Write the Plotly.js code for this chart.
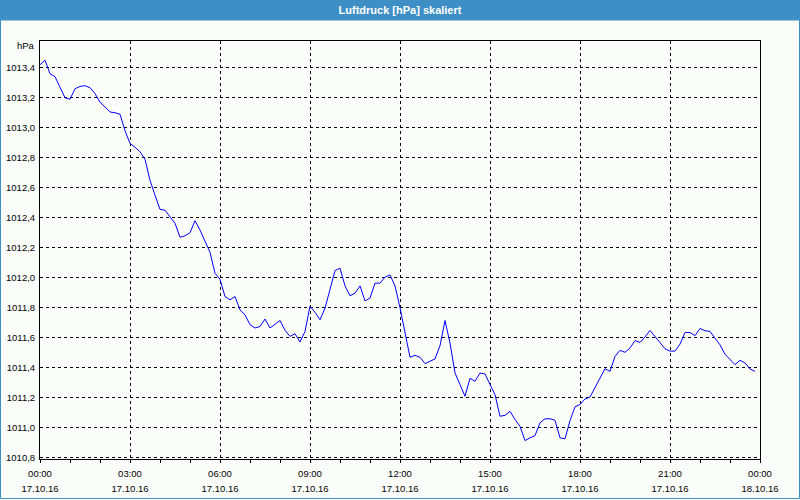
<!DOCTYPE html>
<html>
<head>
<meta charset="utf-8">
<script src="https://cdn.plot.ly/plotly-3.0.1.min.js"></script>
<style>html,body{margin:0;padding:0;background:#fbfdfb;}#chart{width:800px;height:500px;}</style>
</head>
<body>
<div id="chart"></div>
<script>
var chartTitle = "Luftdruck [hPa] skaliert";
var unitLabel = "hPa";
var day = "2016-10-17";
var times = ["00:00","00:10","00:20","00:30","00:40","00:50","01:00","01:10","01:20","01:30","01:40","01:50",
"02:00","02:10","02:20","02:30","02:40","02:50","03:00","03:10","03:20","03:30","03:40","03:50",
"04:00","04:10","04:20","04:30","04:40","04:50","05:00","05:10","05:20","05:30","05:40","05:50",
"06:00","06:10","06:20","06:30","06:40","06:50","07:00","07:10","07:20","07:30","07:40","07:50",
"08:00","08:10","08:20","08:30","08:40","08:50","09:00","09:10","09:20","09:30","09:40","09:50",
"10:00","10:10","10:20","10:30","10:40","10:50","11:00","11:10","11:20","11:30","11:40","11:50",
"12:00","12:10","12:20","12:30","12:40","12:50","13:00","13:10","13:20","13:30","13:40","13:50",
"14:00","14:10","14:20","14:30","14:40","14:50","15:00","15:10","15:20","15:30","15:40","15:50",
"16:00","16:10","16:20","16:30","16:40","16:50","17:00","17:10","17:20","17:30","17:40","17:50",
"18:00","18:10","18:20","18:30","18:40","18:50","19:00","19:10","19:20","19:30","19:40","19:50",
"20:00","20:10","20:20","20:30","20:40","20:50","21:00","21:10","21:20","21:30","21:40","21:50",
"22:00","22:10","22:20","22:30","22:40","22:50","23:00","23:10","23:20","23:30","23:40","23:50"];
var pressure = [1013.42,1013.45,1013.36,1013.34,1013.27,1013.20,1013.19,1013.26,1013.275,1013.28,1013.267,1013.227,
1013.17,1013.14,1013.105,1013.10,1013.09,1012.98,1012.895,1012.87,1012.84,1012.79,1012.65,1012.55,
1012.456,1012.45,1012.41,1012.363,1012.27,1012.28,1012.30,1012.38,1012.318,1012.24,1012.17,1012.03,
1011.99,1011.875,1011.853,1011.875,1011.786,1011.753,1011.687,1011.665,1011.675,1011.725,1011.665,1011.69,
1011.715,1011.65,1011.609,1011.627,1011.572,1011.642,1011.81,1011.77,1011.72,1011.797,1011.92,1012.048,
1012.064,1011.946,1011.88,1011.897,1011.946,1011.846,1011.864,1011.964,1011.964,1012.004,1012.019,1011.946,
1011.80,1011.64,1011.47,1011.483,1011.47,1011.428,1011.443,1011.459,1011.547,1011.715,1011.565,1011.365,
1011.288,1011.21,1011.33,1011.31,1011.365,1011.359,1011.288,1011.221,1011.077,1011.083,1011.11,1011.055,
1011.01,1010.915,1010.933,1010.948,1011.033,1011.06,1011.06,1011.05,1010.933,1010.927,1011.048,1011.14,
1011.155,1011.192,1011.205,1011.266,1011.33,1011.394,1011.376,1011.476,1011.516,1011.503,1011.532,1011.582,
1011.569,1011.605,1011.649,1011.609,1011.572,1011.527,1011.511,1011.511,1011.558,1011.635,1011.635,1011.614,
1011.662,1011.647,1011.642,1011.598,1011.553,1011.49,1011.454,1011.421,1011.45,1011.432,1011.392,1011.376];
var xRange = ["2016-10-17 00:00", "2016-10-18 00:00"];
var yRange = [1010.792, 1013.578];

var W = 800, H = 500, ML = 40, MR = 40, MT = 41, MB = 41;
var PW = W - ML - MR, PH = H - MT - MB;
function px(x) { return (x - ML) / PW; }
function py(y) { return (H - MB - y) / PH; }

var bg = "#fbfdfb";
var blue = "#3d8fc5";
var tickFont = {family: "Liberation Sans, Arial, sans-serif", size: 9.5, color: "#000"};

var xs = times.map(function (t) { return day + " " + t; });
var trace = {
  type: "scatter", mode: "lines",
  x: xs, y: pressure,
  line: {color: "#0000ff", width: 1},
  hoverinfo: "x+y"
};
// same series bound to the date-label axis (kept transparent, it only carries the second label row)
var dateAxisTrace = {
  type: "scatter", mode: "lines", xaxis: "x2", yaxis: "y",
  x: xs, y: pressure,
  line: {color: "rgba(0,0,0,0)", width: 0},
  hoverinfo: "skip", showlegend: false
};

var HOUR = 3600000;
var layout = {
  width: W, height: H,
  margin: {l: ML, r: MR, t: MT, b: MB, pad: 0},
  paper_bgcolor: bg, plot_bgcolor: bg,
  showlegend: false,
  separators: ",.",
  title: {
    text: chartTitle,
    font: {family: "Liberation Sans, Arial, sans-serif", size: 11, color: "#ffffff", weight: "bold"},
    x: 0.5, xref: "container", xanchor: "center",
    y: 1 - 10.5 / H, yref: "container", yanchor: "middle"
  },
  xaxis: {
    type: "date", range: xRange,
    tick0: "2016-10-17 00:00", dtick: 3 * HOUR,
    tickformat: "%H:%M",
    ticks: "outside", ticklen: 3, tickcolor: "#000", tickwidth: 1,
    minor: {dtick: HOUR, ticks: "outside", ticklen: 3, tickcolor: "#000", showgrid: false},
    showgrid: true, gridcolor: "#000", gridwidth: 1, griddash: "3px,3px",
    showline: true, linecolor: "#000", linewidth: 1, mirror: true,
    zeroline: false, tickfont: tickFont, ticklabelstandoff: 3
  },
  xaxis2: {
    type: "date", range: xRange, overlaying: "x", anchor: "y", side: "bottom",
    tick0: "2016-10-17 00:00", dtick: 3 * HOUR,
    tickformat: "%d.%m.%y",
    ticks: "", showgrid: false, showline: false, zeroline: false,
    tickfont: tickFont, ticklabelstandoff: 22
  },
  yaxis: {
    range: yRange, tick0: 1010.8, dtick: 0.2, tickformat: ".1f",
    ticks: "", showgrid: true, gridcolor: "#000", gridwidth: 1, griddash: "3px,3px",
    showline: true, linecolor: "#000", linewidth: 1, mirror: true,
    zeroline: false, tickfont: tickFont, ticklabelstandoff: 2
  },
  shapes: [
    {type: "rect", xref: "paper", yref: "paper", layer: "below",
     x0: px(0), x1: px(800), y0: py(20.5), y1: py(0),
     fillcolor: blue, line: {width: 0}},
    {type: "rect", xref: "paper", yref: "paper", layer: "below",
     x0: px(0.5), x1: px(799.5), y0: py(498.5), y1: py(0.5),
     fillcolor: "rgba(0,0,0,0)", line: {color: blue, width: 1}}
  ],
  annotations: [
    {text: unitLabel, xref: "paper", yref: "paper", x: 0, y: 1,
     xanchor: "right", yanchor: "middle", xshift: -3, yshift: -4,
     showarrow: false, font: tickFont}
  ]
};

Plotly.newPlot("chart", [dateAxisTrace, trace], layout, {displayModeBar: false, staticPlot: true});
</script>
</body>
</html>
